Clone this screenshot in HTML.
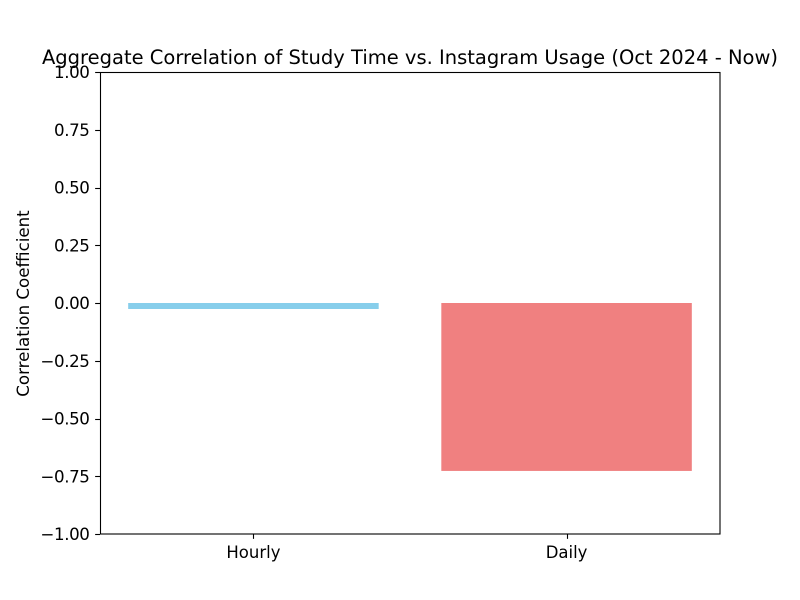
<!DOCTYPE html>
<html lang="en">
<head>
<meta charset="utf-8">
<title>Aggregate Correlation of Study Time vs. Instagram Usage</title>
<style>
html,body{margin:0;padding:0;background:#fff}
svg{display:block}
text{font-family:"DejaVu Sans",sans-serif;fill:#000}
</style>
</head>
<body>
<svg id="chart" xmlns="http://www.w3.org/2000/svg" width="800" height="600" viewBox="0 0 800 600"></svg>
<script>
const categories = ['Hourly', 'Daily'];
const correlationValues = [-0.026, -0.727];
const barColors = ['#87ceeb', '#f08080'];
const yTickValues = [-1, -0.75, -0.5, -0.25, 0, 0.25, 0.5, 0.75, 1];
const yTickLabels = ['\u22121.00', '\u22120.75', '\u22120.50', '\u22120.25', '0.00', '0.25', '0.50', '0.75', '1.00'];
const chartTitle = 'Aggregate Correlation of Study Time vs. Instagram Usage (Oct 2024 - Now)';
const yAxisTitle = 'Correlation Coefficient';

const plotLeft = 100, plotRight = 720, plotTop = 72, plotBottom = 534;
const barWidth = 0.8;
const svg = document.getElementById('chart');
const NS = 'http://www.w3.org/2000/svg';

const xMin = -barWidth / 2 - 0.05 * (categories.length - 1 + barWidth);
const xMax = categories.length - 1 + barWidth / 2 + 0.05 * (categories.length - 1 + barWidth);
function xScale(v) { return plotLeft + (v - xMin) / (xMax - xMin) * (plotRight - plotLeft); }
function yScale(v) { return plotBottom - (v + 1) / 2 * (plotBottom - plotTop); }

function make(tag, attrs, text) {
  const el = document.createElementNS(NS, tag);
  for (const k in attrs) el.setAttribute(k, attrs[k]);
  if (text !== undefined) el.textContent = text;
  svg.appendChild(el);
  return el;
}

const background = make('rect', {x: plotLeft, y: plotTop, width: plotRight - plotLeft, height: plotBottom - plotTop, fill: '#fff'});



categories.forEach(function (cat, i) {
  const v = correlationValues[i];
  const x0 = xScale(i - barWidth / 2), x1 = xScale(i + barWidth / 2);
  const y0 = yScale(Math.max(v, 0)), y1 = yScale(Math.min(v, 0));
  const bar = make('rect', {x: x0, y: y0, width: x1 - x0, height: y1 - y0, fill: barColors[i]});
  
  

  const cx = Math.round(xScale(i)) + 0.5;
  const tick = make('line', {x1: cx, x2: cx, y1: plotBottom, y2: plotBottom + 4.86, stroke: '#000', 'stroke-width': 1.1});
  
  

  const label = make('text', {x: xScale(i), y: plotBottom + 24, 'text-anchor': 'middle', 'font-size': 16.5}, cat);
  
  
});

yTickValues.forEach(function (v, i) {
  const y = Math.round(yScale(v)) + 0.5;
  const tick = make('line', {x1: plotLeft - 4.86, x2: plotLeft, y1: y, y2: y, stroke: '#000', 'stroke-width': 1.1});
  
  

  const label = make('text', {x: plotLeft - 10.5, y: yScale(v) + 6, 'text-anchor': 'end', 'font-size': 16.67, 'letter-spacing': -0.4}, yTickLabels[i]);
  
  
});

const frame = make('rect', {x: plotLeft + 0.5, y: plotTop + 0.5, width: plotRight - plotLeft - 0.5, height: plotBottom - plotTop - 0.5, fill: 'none', stroke: '#000', 'stroke-width': 1.1});



const title = make('text', {x: (plotLeft + plotRight) / 2, y: 64, 'text-anchor': 'middle', 'font-size': 19.5}, chartTitle);



const yTitle = make('text', {transform: 'translate(29,' + ((plotTop + plotBottom) / 2 + 0.5) + ') rotate(-90)', 'text-anchor': 'middle', 'font-size': 16.67}, yAxisTitle);


</script>
</body>
</html>
